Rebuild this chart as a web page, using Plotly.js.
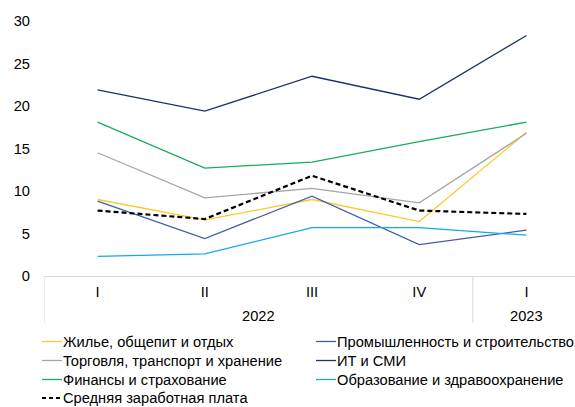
<!DOCTYPE html>
<html><head><meta charset="utf-8">
<script src="https://cdn.plot.ly/plotly-3.0.1.min.js"></script>
<style>html,body{margin:0;padding:0;background:#fff}#chart{width:575px;height:407px}</style>
</head><body><div id="chart"></div>
<script>
var years = ["2022","2022","2022","2022","2023"];
var quarters = ["I","II","III","IV","I"];

var housing   = [9.0, 6.6, 9.0, 6.4, 16.9];
var industry  = [8.8, 4.4, 9.4, 3.7, 5.4];
var trade     = [14.5, 9.2, 10.3, 8.6, 16.8];
var itMedia   = [21.9, 19.4, 23.5, 20.8, 28.3];
var finance   = [18.1, 12.7, 13.4, 15.8, 18.1];
var education = [2.3, 2.6, 5.7, 5.7, 4.8];
var avgWage   = [7.7, 6.7, 11.8, 7.7, 7.3];

var names = ["Жилье, общепит и отдых","Промышленность и строительство","Торговля, транспорт и хранение","ИТ и СМИ","Финансы и страхование","Образование и здравоохранение","Средняя заработная плата"];
var series = [housing, industry, trade, itMedia, finance, education, avgWage];
var colors = ["#FFC72C","#3F5FA8","#A6A6A6","#1B2F6B","#17AD55","#14A9EC","#000000"];
var widths = [1.3,1.3,1.3,1.3,1.3,1.3,2.2];
var dashes = ["solid","solid","solid","solid","solid","solid","5px,3px"];

var keys = quarters.map(function(q,i){ return years[i] + " " + q; });

var traces = series.map(function(v,i){
  return {type:"scatter", mode:"lines", x:keys, y:v, name:names[i],
    line:{color:colors[i], width:widths[i], dash:dashes[i]}, showlegend:false};
});

// plot area geometry (px)
var L = 44, T = 21, W = 531, H = 255;
function px2x(p){ return (p - L) / W; }
function py2y(p){ return (T + H - p) / H; }

var shapes = [];
var annotations = [];
var divColor = "#D9D9D9";
var divBottom = py2y(323);

// year groups: dividers and labels
var groups = [];
years.forEach(function(y,i){
  if(!groups.length || groups[groups.length-1].year !== y) groups.push({year:y, start:i, end:i});
  else groups[groups.length-1].end = i;
});
groups.forEach(function(g){
  shapes.push({type:"line", xref:"x", yref:"paper", x0:g.start - 0.5, x1:g.start - 0.5,
    y0:0, y1:divBottom, line:{color:divColor, width:1}});
  annotations.push({xref:"x", yref:"paper", x:(g.start + g.end) / 2, y:py2y(315.5),
    xanchor:"center", yanchor:"middle", text:g.year, showarrow:false,
    font:{size:14.67, color:"#000"}, borderpad:0});
});

// custom legend: two columns
var colLine = [42, 316], colText = [62, 336];
var rowY = [341.5, 360.5, 379.5, 398];
names.forEach(function(n, i){
  var c = i % 2, r = Math.floor(i / 2);
  var yy = py2y(rowY[r]);
  shapes.push({type:"line", xref:"paper", yref:"paper",
    x0:px2x(colLine[c]), x1:px2x(colLine[c] + 20), y0:yy, y1:yy,
    line:{color:colors[i], width:(i === 6 ? 2 : 1.3), dash:(i === 6 ? "4px,3px" : "solid")}});
  annotations.push({xref:"paper", yref:"paper", x:px2x(colText[c]), y:yy,
    xanchor:"left", yanchor:"middle", text:n, showarrow:false,
    font:{size:14.67, color:"#000"}, borderpad:0});
});

var layout = {
  width:575, height:407,
  margin:{l:L, r:575 - L - W, t:T, b:407 - T - H},
  paper_bgcolor:"#fff", plot_bgcolor:"#fff",
  font:{family:"Liberation Sans, Arial, sans-serif", color:"#000", size:14.67},
  showlegend:false,
  xaxis:{type:"category", range:[-0.5, 4.453], showline:true, linecolor:divColor, linewidth:1,
    tickmode:"array", tickvals:keys, ticktext:quarters,
    tickfont:{size:14.67}, ticks:"", showgrid:false, zeroline:false, ticklabelstandoff:2},
  yaxis:{range:[0,30], dtick:5, showgrid:false, zeroline:false, showline:false,
    ticks:"", tickfont:{size:14.67}, ticklabelstandoff:13},
  shapes:shapes,
  annotations:annotations
};

Plotly.newPlot("chart", traces, layout, {displayModeBar:false, staticPlot:true});
</script></body></html>
